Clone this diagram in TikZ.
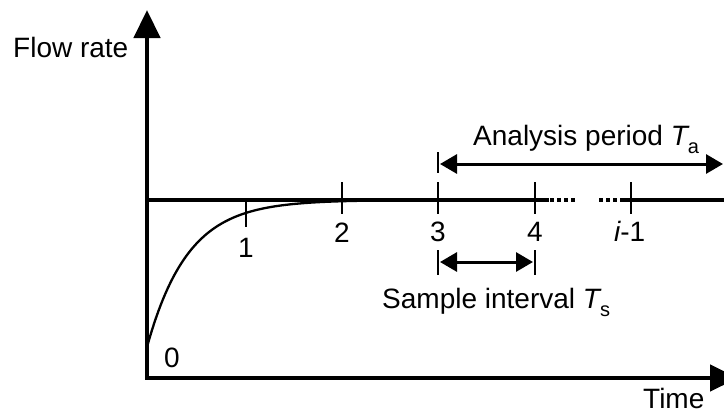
\documentclass[tikz,border=0pt]{standalone}
\usepackage{fontspec}
\setmainfont{Liberation Sans}
\usetikzlibrary{arrows.meta}
\newcommand\mysub[1]{\raisebox{-8pt}{\fontsize{20}{20}\selectfont #1}}
\begin{document}
\begin{tikzpicture}[x=1pt,y=-1pt,
  axis/.style={line width=4.5pt, line join=miter, {Triangle[length=28pt,width=26pt]}-{Triangle[length=28pt,width=26pt]}},
  tickmark/.style={line width=2pt},
  mainline/.style={line width=4pt},
  dotline/.style={line width=4pt, dash pattern=on 4pt off 3pt},
  curve/.style={line width=2.3pt},
  dimarrow/.style={line width=3pt, {Triangle[length=17pt,width=19pt]}-{Triangle[length=17pt,width=19pt]}},
  lbl/.style={inner sep=0pt, font=\fontsize{28}{32}\selectfont},
  ]
\clip (0,0) rectangle (724,416);
% axes
\coordinate (O) at (147,378);
\coordinate (Ytop) at (147,10);
\coordinate (Xend) at (738,378);
\draw[axis] (Ytop) -- (O) -- (Xend);
\node[lbl, anchor=base west] (ylabel) at (13,57) {Flow rate};
\node[lbl, anchor=base west] (xlabel) at (643,408) {Time};
% steady line
\coordinate (L0) at (147,200);
\coordinate (L1) at (549,200);
\coordinate (D1a) at (550,200);
\coordinate (D1b) at (575,200);
\coordinate (D2a) at (599,200);
\coordinate (D2b) at (623,200);
\coordinate (L2) at (622,200);
\coordinate (L3) at (724,200);
\draw[mainline] (L0) -- (L1);
\draw[dotline] (D1a) -- (D1b);
\draw[dotline] (D2a) -- (D2b);
\draw[mainline] (L2) -- (L3);
% curve
\draw[curve] plot[domain=147:420, samples=120] (\x, {200+147*exp(-(\x-147)/40.7)});
% ticks
\coordinate (t1) at (246,213);
\coordinate (t2) at (342,198);
\coordinate (t3) at (438,198);
\coordinate (t4) at (535,198);
\coordinate (t5) at (631,198);
\draw[tickmark] (t1) ++(0,-14) -- ++(0,28);
\foreach \t in {t2,t3,t4,t5} \draw[tickmark] (\t) ++(0,-16) -- ++(0,32);
\node[lbl, anchor=base] (n0) at (172,367) {0};
\node[lbl, anchor=base] (n1) at (246,257) {1};
\node[lbl, anchor=base] (n2) at (342,242) {2};
\node[lbl, anchor=base] (n3) at (438,241) {3};
\node[lbl, anchor=base] (n4) at (535,241) {4};
\node[lbl, anchor=base west] (n5) at (614,241) {{\itshape i}-1};
% sample interval
\coordinate (s3top) at (438,250);
\coordinate (s3bot) at (438,275);
\coordinate (s4top) at (535,250);
\coordinate (s4bot) at (535,275);
\draw[tickmark] (s3top) -- (s3bot);
\draw[tickmark] (s4top) -- (s4bot);
\coordinate (sa) at (440,262);
\coordinate (sb) at (533,262);
\draw[dimarrow] (sa) -- (sb);
\node[lbl, anchor=base west] (slabel) at (382,308) {Sample interval {\itshape T}\mysub{s}};
% analysis period
\coordinate (atop) at (438,152);
\coordinate (abot) at (438,173);
\draw[tickmark] (atop) -- (abot);
\coordinate (aa) at (440,164);
\coordinate (ab) at (723,164);
\draw[dimarrow] (aa) -- (ab);
\node[lbl, anchor=base west] (alabel) at (473,145) {Analysis period {\itshape T}\mysub{a}};
\end{tikzpicture}
\end{document}
